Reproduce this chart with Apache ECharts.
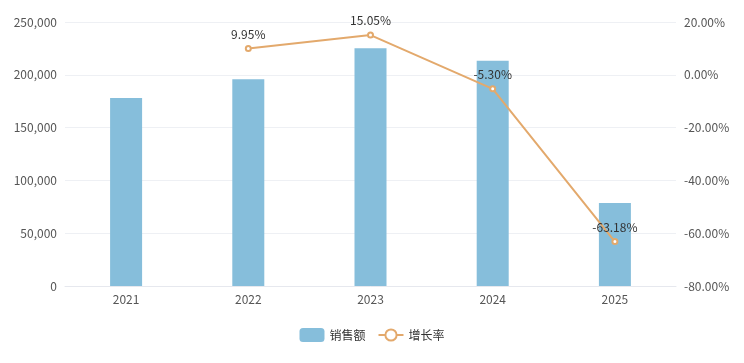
<!DOCTYPE html>
<html>
<head>
<meta charset="utf-8">
<script src="https://cdn.jsdelivr.net/npm/echarts@6/dist/echarts.min.js"></script>
<style>html,body{margin:0;padding:0;background:#fff;}#c{width:744px;height:363px;}</style>
</head>
<body>
<div id="c"></div>
<script>
var categories = ['2021', '2022', '2023', '2024', '2025'];
var sales = [178000, 195710, 225160, 213230, 78510];
var growth = [null, 9.95, 15.05, -5.30, -63.18];
var leftTicks = { min: 0, max: 250000, interval: 50000 };
var rightTicks = { min: -80, max: 20, interval: 20 };

var chart = echarts.init(document.getElementById('c'));
chart.setOption({
  animation: false,
  textStyle: { fontFamily: '"Noto Sans CJK SC", "Noto Sans", sans-serif' },
  grid: { left: 65, right: 68, top: 22, bottom: 77 },
  legend: {
    bottom: 16,
    left: 'center',
    itemWidth: 25,
    itemHeight: 14,
    itemGap: 12,
    textStyle: { color: '#333', fontSize: 12 },
    data: [
      { name: '销售额', icon: 'roundRect' },
      { name: '增长率' }
    ]
  },
  xAxis: {
    type: 'category',
    data: categories,
    axisLine: { lineStyle: { color: '#e6e8ee' } },
    axisTick: { show: false },
    axisLabel: { color: '#555', fontSize: 12, margin: 7 }
  },
  yAxis: [
    {
      type: 'value',
      min: leftTicks.min, max: leftTicks.max, interval: leftTicks.interval,
      axisLabel: {
        color: '#555', fontSize: 12,
        formatter: function (v) { return v.toLocaleString('en-US'); }
      },
      splitLine: { lineStyle: { color: '#eef0f4' } },
      axisLine: { show: false },
      axisTick: { show: false }
    },
    {
      type: 'value',
      min: rightTicks.min, max: rightTicks.max, interval: rightTicks.interval,
      axisLabel: {
        color: '#555', fontSize: 12,
        formatter: function (v) { return v.toFixed(2) + '%'; }
      },
      splitLine: { show: false },
      axisLine: { show: false },
      axisTick: { show: false }
    }
  ],
  series: [
    {
      name: '销售额',
      type: 'bar',
      data: sales,
      barWidth: 32,
      itemStyle: { color: '#86bedb' }
    },
    {
      name: '增长率',
      type: 'line',
      yAxisIndex: 1,
      data: growth,
      symbol: 'emptyCircle',
      symbolSize: 5,
      lineStyle: { color: '#e3a96c', width: 2 },
      itemStyle: { color: '#e3a96c', borderWidth: 1.5 },
      label: {
        show: true,
        position: 'top',
        color: '#333',
        fontSize: 12,
        formatter: function (p) { return p.value.toFixed(2) + '%'; }
      }
    }
  ]
});
</script>
</body>
</html>
